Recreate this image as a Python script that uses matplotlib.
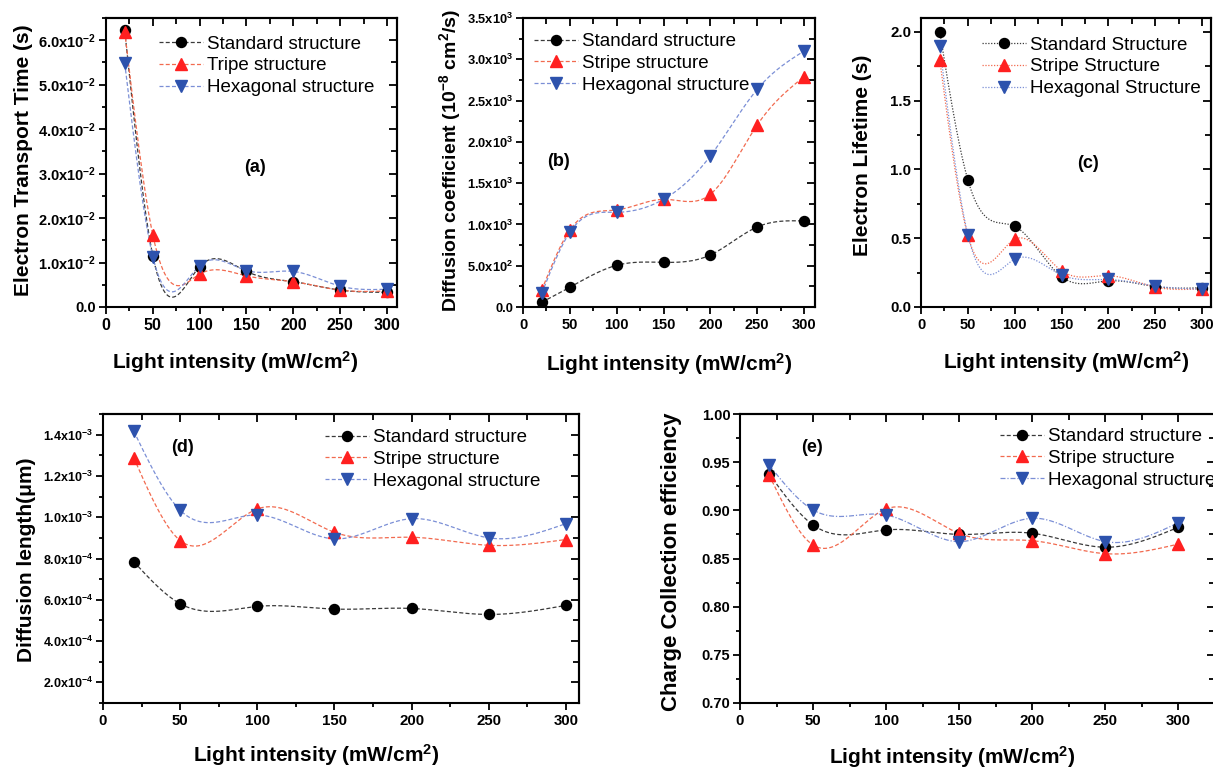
import numpy as np
import matplotlib
matplotlib.use('Agg')
import matplotlib.pyplot as plt
from matplotlib.lines import Line2D
from matplotlib.ticker import MultipleLocator

plt.rcParams['font.family'] = ['Liberation Sans', 'DejaVu Sans']
plt.rcParams['mathtext.fontset'] = 'custom'
plt.rcParams['mathtext.rm'] = 'Liberation Sans'
plt.rcParams['mathtext.bf'] = 'Liberation Sans:bold'
plt.rcParams['mathtext.default'] = 'bf'

W, H = 1213, 769

# --- data ---
light = [20, 50, 100, 150, 200, 250, 300]

# (a) electron transport time (s)
tt_std = [0.0622, 0.0115, 0.0091, 0.0080, 0.0057, 0.0038, 0.0033]
tt_str = [0.0619, 0.0162, 0.0074, 0.0070, 0.0057, 0.0038, 0.0036]
tt_hex = [0.0548, 0.0113, 0.0093, 0.0082, 0.0080, 0.0047, 0.0040]

# (b) diffusion coefficient (1e-8 cm2/s)
dc_std = [57, 239, 505, 541, 630, 969, 1042]
dc_str = [206, 932, 1175, 1304, 1365, 2204, 2789]
dc_hex = [166, 905, 1147, 1304, 1829, 2636, 3100]

# (c) electron lifetime (s)
lt_std = [2.00, 0.924, 0.587, 0.220, 0.190, 0.148, 0.140]
lt_str = [1.796, 0.520, 0.492, 0.264, 0.228, 0.145, 0.133]
lt_hex = [1.893, 0.525, 0.347, 0.233, 0.200, 0.153, 0.129]

# (d) diffusion length (um)
dl_std = [7.84e-4, 5.81e-4, 5.68e-4, 5.55e-4, 5.58e-4, 5.29e-4, 5.73e-4]
dl_str = [1.287e-3, 8.87e-4, 1.040e-3, 9.27e-4, 9.03e-4, 8.64e-4, 8.92e-4]
dl_hex = [1.416e-3, 1.034e-3, 1.011e-3, 8.95e-4, 9.93e-4, 9.00e-4, 9.69e-4]

# (e) charge collection efficiency
ce_std = [0.9378, 0.8848, 0.8797, 0.8750, 0.8762, 0.8617, 0.8825]
ce_str = [0.9364, 0.8640, 0.9015, 0.8760, 0.8685, 0.8550, 0.8650]
ce_hex = [0.9468, 0.9004, 0.8952, 0.8675, 0.8918, 0.8675, 0.8872]

labels_a = ['Standard structure', 'Tripe structure', 'Hexagonal structure']
labels_s = ['Standard structure', 'Stripe structure', 'Hexagonal structure']
labels_c = ['Standard Structure', 'Stripe Structure', 'Hexagonal Structure']

xticks = [0, 50, 100, 150, 200, 250, 300]
a_yticks = [0, 0.01, 0.02, 0.03, 0.04, 0.05, 0.06]
a_ylabels = ['0.0'] + ['%d.0x10$^{-2}$' % i for i in range(1, 7)]
b_yticks = [0, 500, 1000, 1500, 2000, 2500, 3000, 3500]
b_ylabels = ['0.0', '5.0x10$^2$', '1.0x10$^3$', '1.5x10$^3$', '2.0x10$^3$',
             '2.5x10$^3$', '3.0x10$^3$', '3.5x10$^3$']
c_yticks = [0, 0.5, 1.0, 1.5, 2.0]
c_ylabels = ['0.0', '0.5', '1.0', '1.5', '2.0']
d_yticks = [2e-4, 4e-4, 6e-4, 8e-4, 1e-3, 1.2e-3, 1.4e-3]
d_ylabels = ['2.0x10$^{-4}$', '4.0x10$^{-4}$', '6.0x10$^{-4}$', '8.0x10$^{-4}$',
             '1.0x10$^{-3}$', '1.2x10$^{-3}$', '1.4x10$^{-3}$']
e_yticks = [0.70, 0.75, 0.80, 0.85, 0.90, 0.95, 1.00]
e_ylabels = ['0.70', '0.75', '0.80', '0.85', '0.90', '0.95', '1.00']

LINE_C = ['#3a3a3a', '#f26a4f', '#7b8fd6']
MARK_C = ['#000000', '#ff2020', '#2d52ad']
MARKERS = ['o', '^', 'v']
MSIZE = [7.2, 8.2, 8.2]

DASH = (0, (3.2, 1.8))
DOT = (0, (1, 1.3))
DASHDOT = (0, (4, 1.5, 1, 1.5))


def spline(x, y, n=400):
    # natural cubic spline, like Origin's "Spline" connect
    x = np.asarray(x, float)
    y = np.asarray(y, float)
    k = len(x)
    h = np.diff(x)
    A = np.zeros((k, k))
    r = np.zeros(k)
    A[0, 0] = A[-1, -1] = 1
    for i in range(1, k - 1):
        A[i, i - 1] = h[i - 1]
        A[i, i] = 2 * (h[i - 1] + h[i])
        A[i, i + 1] = h[i]
        r[i] = 3 * ((y[i + 1] - y[i]) / h[i] - (y[i] - y[i - 1]) / h[i - 1])
    c = np.linalg.solve(A, r)
    b = (y[1:] - y[:-1]) / h - h * (2 * c[:-1] + c[1:]) / 3
    d = (c[1:] - c[:-1]) / (3 * h)
    xs = np.linspace(x[0], x[-1], n)
    i = np.clip(np.searchsorted(x, xs) - 1, 0, k - 2)
    t = xs - x[i]
    return xs, y[i] + b[i] * t + c[i] * t ** 2 + d[i] * t ** 3


def px_rect(l, t, r, b):
    return [l / W, 1 - b / H, (r - l) / W, (b - t) / H]


def fx(x):
    return x / W


def fy(y):
    return 1 - y / H


fig = plt.figure(figsize=(W / 100, H / 100), dpi=100)


def panel(rect, xmax, ylim, ys, styles, yticks, ylabels, yminor,
          xfs, yfs, labels, leg_x, leg_y, tag, tag_xy,
          xlabel, xlab_xy, ylabel, ylab_xy, ylab_fs=15):
    ax = fig.add_axes(px_rect(*rect))
    handles = []
    for k, y in enumerate(ys):
        xs, yy = spline(light, y)
        ax.plot(xs, yy, ls=styles[k], lw=0.9, color=LINE_C[k], zorder=2)
        ax.plot(light, y, ls='none', marker=MARKERS[k], ms=MSIZE[k],
                color=MARK_C[k], mec=MARK_C[k], zorder=3)
        handles.append(Line2D([], [], ls=styles[k], lw=0.9, color=LINE_C[k],
                              marker=MARKERS[k], ms=MSIZE[k],
                              mfc=MARK_C[k], mec=MARK_C[k]))
    ax.set_xlim(0, xmax)
    ax.set_ylim(*ylim)
    ax.set_xticks(xticks)
    ax.set_xticklabels([str(v) for v in xticks], fontweight='bold', fontsize=xfs)
    ax.set_yticks(yticks)
    ax.set_yticklabels(ylabels, fontweight='bold', fontsize=yfs)
    ax.xaxis.set_minor_locator(MultipleLocator(25))
    ax.yaxis.set_minor_locator(MultipleLocator(yminor))
    ax.tick_params(which='both', direction='out', width=1.3, top=False, right=False)
    ax.tick_params(which='major', length=5)
    ax.tick_params(which='minor', length=3)
    ax.tick_params(axis='x', pad=3)
    ax.tick_params(axis='y', pad=2)
    for s in ax.spines.values():
        s.set_linewidth(1.5)

    top = ax.secondary_xaxis('top')
    top.set_xticks(xticks)
    top.xaxis.set_minor_locator(MultipleLocator(25))
    top.tick_params(which='both', direction='in', width=1.3, labeltop=False)
    top.tick_params(which='major', length=6)
    top.tick_params(which='minor', length=4)
    right = ax.secondary_yaxis('right')
    right.set_yticks(yticks)
    right.yaxis.set_minor_locator(MultipleLocator(yminor))
    right.tick_params(which='both', direction='in', width=1.3, labelright=False)
    right.tick_params(which='major', length=6)
    right.tick_params(which='minor', length=4)
    for sec in (top, right):
        for s in sec.spines.values():
            s.set_linewidth(1.5)

    ax.legend(handles, labels, loc='upper left',
              bbox_to_anchor=(fx(leg_x), fy(leg_y)), bbox_transform=fig.transFigure,
              frameon=False, borderpad=0, borderaxespad=0, handlelength=2.35,
              handletextpad=0.22, labelspacing=0.25, fontsize=13.5)

    fig.text(fx(tag_xy[0]), fy(tag_xy[1]), tag, fontsize=13, fontweight='bold',
             ha='center', va='center')
    fig.text(fx(xlab_xy[0]), fy(xlab_xy[1]), xlabel, fontsize=15,
             fontweight='bold', ha='center', va='center')
    fig.text(fx(ylab_xy[0]), fy(ylab_xy[1]), ylabel, fontsize=ylab_fs,
             fontweight='bold', ha='center', va='center', rotation=90)
    return ax


xlab = 'Light intensity (mW/cm$^2$)'

panel((106, 18, 397, 307), 310.7, (0, 0.065), [tt_std, tt_str, tt_hex],
      [DASH, DASH, DASH], a_yticks, a_ylabels, 0.005, 11.5, 10.5, labels_a,
      159, 35.5, '(a)', (255, 167), xlab, (235, 362),
      'Electron Transport Time (s)', (24, 160))

panel((523, 18, 815, 307), 311.7, (0, 3500), [dc_std, dc_str, dc_hex],
      [DASH, DASH, DASH], b_yticks, b_ylabels, 250, 10.5, 9.3, labels_s,
      534, 33, '(b)', (558, 162), xlab, (669, 364),
      'Diffusion coefficient (10$^{-8}$ cm$^2$/s)', (450, 161), ylab_fs=14)

panel((921, 18, 1211, 307), 309.6, (0, 2.1), [lt_std, lt_str, lt_hex],
      [DOT, DOT, DOT], c_yticks, c_ylabels, 0.25, 10.5, 10.8, labels_c,
      982, 36.5, '(c)', (1088, 164), xlab, (1066, 362),
      'Electron Lifetime (s)', (863, 155))

panel((103, 414, 579, 703), 308.5, (1e-4, 1.5e-3), [dl_std, dl_str, dl_hex],
      [DASH, DASH, DASH], d_yticks, d_ylabels, 1e-4, 10.8, 9, labels_s,
      325, 429, '(d)', (183, 447), xlab, (316, 755),
      'Diffusion length(\u03bcm)', (27, 560))

panel((740, 414, 1215, 703), 325, (0.70, 1.00), [ce_std, ce_str, ce_hex],
      [DASH, DASH, DASHDOT], e_yticks, e_ylabels, 0.025, 10.8, 10.5, labels_s,
      1000, 428, '(e)', (812, 447), xlab, (952, 757),
      'Charge Collection efficiency', (672, 562), ylab_fs=16)

fig.savefig('out.png', dpi=100)
